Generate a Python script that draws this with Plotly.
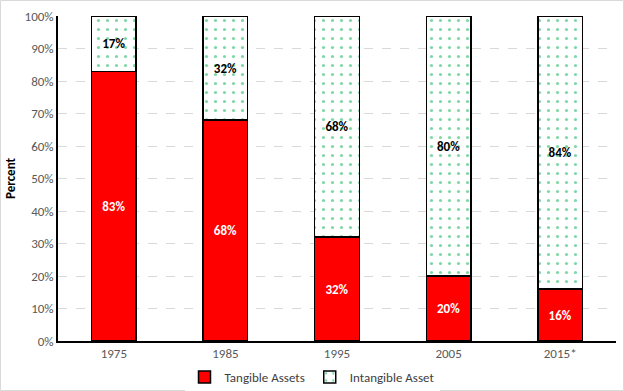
import plotly.graph_objects as go

years = ["1975", "1985", "1995", "2005", "2015*"]
tangible = [83, 68, 32, 20, 16]
intangible = [17, 32, 68, 80, 84]
tick_vals = [0, 10, 20, 30, 40, 50, 60, 70, 80, 90, 100]
tick_text = [f"{v}%" for v in tick_vals]

font_family = "Carlito, Calibri, Lato, sans-serif"

fig = go.Figure()
fig.add_trace(go.Bar(
    x=years, y=tangible, name="Tangible Assets",
    marker=dict(color="#FF0000", line=dict(color="black", width=1.5)),
    text=[f"{v}%" for v in tangible], textposition="inside",
    insidetextanchor="middle",
    textfont=dict(color="white", size=13, family=font_family, weight="bold"),
))
fig.add_trace(go.Bar(
    x=years, y=intangible, name="Intangible Asset",
    marker=dict(color="white", line=dict(color="black", width=1.5),
                pattern=dict(shape=".", fgcolor="#00B050", bgcolor="white",
                             size=9, solidity=0.1)),
    text=[f"{v}%" for v in intangible], textposition="inside",
    insidetextanchor="middle",
    textfont=dict(color="black", size=13, family=font_family, weight="bold"),
))

fig.update_layout(
    barmode="stack", bargap=0.6,
    width=624, height=391,
    margin=dict(l=58, r=8, t=16, b=50, autoexpand=False),
    paper_bgcolor="white", plot_bgcolor="white",
    font=dict(family=font_family, size=13, color="#595959"),
    showlegend=True,
    legend=dict(orientation="h", x=0.5, xanchor="center", xref="container",
                y=14/391, yanchor="middle", yref="container",
                font=dict(size=13, color="#404040"), traceorder="normal",
                itemwidth=30),
    xaxis=dict(showline=True, linecolor="black", linewidth=1.5, ticks="",
               automargin=False, tickfont=dict(size=13, color="#595959")),
    yaxis=dict(range=[0, 100], tickvals=tick_vals, ticktext=tick_text,
               automargin=False,
               showline=True, linecolor="black", linewidth=1.5,
               showgrid=True, gridcolor="#D9D9D9", griddash="dash", gridwidth=1,
               tickfont=dict(size=13, color="#595959"),
               title=dict(text="<b>Percent</b>", font=dict(size=13, color="black"), standoff=6)),
    shapes=[dict(type="rect", xref="paper", yref="paper", x0=-57.5/558, x1=1 + 7.5/558,
                 y0=-49.5/325, y1=1 + 15.5/325, line=dict(color="#D9D9D9", width=1))],
)

fig.write_html("out.html", config={"displayModeBar": False},
               post_script="document.body.style.margin='0';document.body.style.overflow='hidden';")
